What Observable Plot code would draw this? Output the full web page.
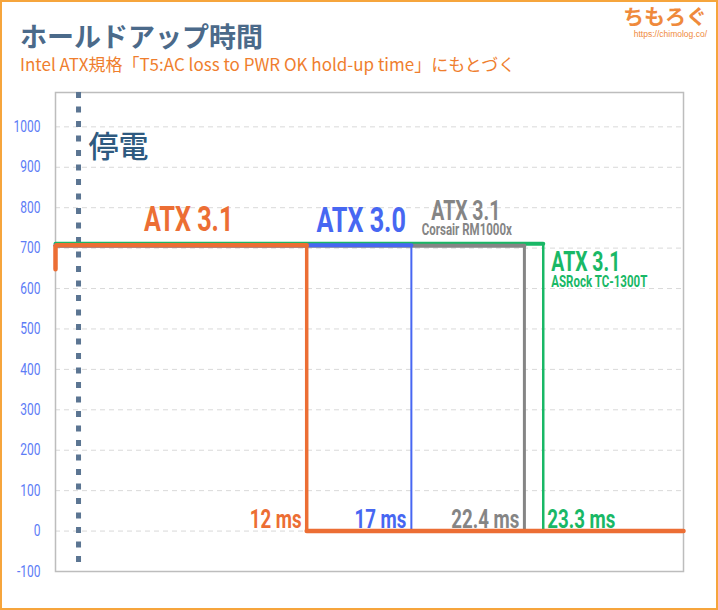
<!DOCTYPE html>
<html><head><meta charset="utf-8">
<script src="https://cdn.jsdelivr.net/npm/d3@7"></script>
<script src="https://cdn.jsdelivr.net/npm/@observablehq/plot@0.6"></script>
<style>
body{margin:0;background:#fff;}
#wrap{position:relative;width:718px;height:610px;overflow:hidden;background:#fff;font-family:"Noto Sans CJK JP","Noto Sans",sans-serif;}
#border{position:absolute;left:0;top:0;width:718px;height:610px;box-sizing:border-box;border:2px solid #F6A53C;pointer-events:none;z-index:5;}
#title{position:absolute;left:20px;top:22px;font-size:27px;font-weight:bold;color:#4B6A8A;line-height:1;white-space:nowrap;}
#subtitle{position:absolute;left:20px;top:55px;font-size:17px;color:#EF7E2E;line-height:1;white-space:nowrap;}
#logo{position:absolute;right:11px;top:5px;text-align:right;color:#EF8A3C;line-height:1;}
#logo .a{font-size:21px;font-weight:bold;}
#logo .b{font-size:8.5px;font-family:"Liberation Sans",sans-serif;margin-top:4px;}
#chart{position:absolute;left:0;top:75px;}
</style>
</head><body>
<div id="wrap">
  <div id="title">ホールドアップ時間</div>
  <div id="subtitle">Intel ATX規格「T5:AC loss to PWR OK hold-up time」にもとづく</div>
  <div id="logo"><div class="a">ちもろぐ</div><div class="b">https://chimolog.co/</div></div>
  <div id="chart"></div>
  <div id="border"></div>
</div>
<script>
// ---- data ----
const standards = ["ATX 3.1", "ATX 3.0", "ATX 3.1", "ATX 3.1"];
const models = ["", "", "Corsair RM1000x", "ASRock TC-1300T"];
const holdupMs = [12, 17, 22.4, 23.3];
const holdupLabels = ["12 ms", "17 ms", "22.4 ms", "23.3 ms"];
const plateau = [707, 707, 706, 711];
const startValue = [648, 707, 706, 711];
const endMs = 30;
const outageMs = 1.1;
const outageLabel = "停電";
const yTicks = [-100, 0, 100, 200, 300, 400, 500, 600, 700, 800, 900, 1000];

const colors = ["#EC6E34", "#4767F2", "#858585", "#19B866"];
const topWidth = [4.5, 4, 4, 4];
const dropWidth = [3.5, 2, 3, 2.5];
const cond = "Roboto, 'Liberation Sans', sans-serif";

const marks = [
  Plot.ruleY(yTicks, {stroke: "#d9d9d9", strokeWidth: 1, strokeDasharray: "5,4"}),
  Plot.frame({stroke: "#bdbdbd", strokeWidth: 1.5}),
  Plot.ruleX([outageMs], {y1: 1085, y2: -93, stroke: "#5B7592", strokeWidth: 5, strokeDasharray: "6,8.5"})
];

// draw green first, orange last
for (const i of [3, 2, 1, 0]) {
  const top = [{x: 0, y: startValue[i]}, {x: 0, y: plateau[i]}, {x: holdupMs[i], y: plateau[i]}];
  const drop = [{x: holdupMs[i], y: plateau[i]}, {x: holdupMs[i], y: 0}, {x: endMs, y: 0}];
  marks.push(Plot.line(top, {x: "x", y: "y", stroke: colors[i], strokeWidth: topWidth[i], strokeLinejoin: "miter"}));
  marks.push(Plot.line(drop, {x: "x", y: "y", stroke: colors[i], strokeWidth: dropWidth[i], strokeLinejoin: "miter"}));
}
marks.push(Plot.line([{x: holdupMs[0], y: 0}, {x: endMs, y: 0}], {x: "x", y: "y", stroke: colors[0], strokeWidth: 4.5}));

const C = {fontWeight: "bold", fontFamily: cond, lineAnchor: "bottom", className: "cond"};
// hold-up time labels
marks.push(Plot.text([0, 1, 2], {...C, x: i => holdupMs[i], y: 0, text: i => holdupLabels[i], fill: i => colors[i], textAnchor: "end", dx: -5, dy: -3, fontSize: 26}));
marks.push(Plot.text([3], {...C, x: i => holdupMs[i], y: 0, text: i => holdupLabels[i], fill: i => colors[i], textAnchor: "start", dx: 4, dy: -3, fontSize: 26}));
// standard labels
marks.push(Plot.text([0], {...C, x: i => holdupMs[i] * 0.53, y: i => plateau[i], text: i => standards[i], fill: colors[0], dy: -14, fontSize: 35}));
marks.push(Plot.text([1], {...C, x: i => (holdupMs[0] + holdupMs[1]) / 2 + 0.1, y: i => plateau[i], text: i => standards[i], fill: colors[1], dy: -13, fontSize: 35}));
marks.push(Plot.text([2], {...C, x: i => (holdupMs[1] + holdupMs[2]) / 2 - 0.1, y: i => plateau[i], text: i => standards[i], fill: colors[2], dy: -26, fontSize: 27}));
marks.push(Plot.text([2], {...C, x: i => (holdupMs[1] + holdupMs[2]) / 2 - 0.05, y: i => plateau[i], text: i => models[i], fill: colors[2], dy: -11, fontSize: 16}));
marks.push(Plot.text([3], {...C, x: i => holdupMs[i], y: i => plateau[i], text: i => standards[i], fill: colors[3], textAnchor: "start", dx: 8, dy: 27, fontSize: 27}));
marks.push(Plot.text([3], {...C, x: i => holdupMs[i], y: i => plateau[i], text: i => models[i], fill: colors[3], textAnchor: "start", dx: 8, dy: 43, fontSize: 16}));
// outage label
marks.push(Plot.text([outageLabel], {x: outageMs, y: 1000, text: d => d, fill: "#2E5A80", textAnchor: "start", dx: 10, lineAnchor: "bottom", dy: 30, fontSize: 30, fontWeight: "500", fontFamily: "'Noto Sans CJK JP',sans-serif"}));

const chart = Plot.plot({
  width: 718,
  height: 531,
  marginLeft: 55,
  marginRight: 35,
  marginTop: 17,
  marginBottom: 35,
  style: {background: "transparent", overflow: "visible"},
  x: {domain: [0, endMs], axis: null},
  y: {domain: [-100, 1085], ticks: yTicks, tickSize: 0, tickPadding: 15, label: null, tickFormat: d => String(d)},
  marks
});
document.getElementById("chart").appendChild(chart);

// horizontal condensing (keeps anchor point fixed)
function squeeze(el, s) {
  const t = el.getAttribute("transform") || "";
  el.setAttribute("transform", `${t} scale(${s},1)`);
}
d3.select(chart).selectAll(".cond text").each(function(){ squeeze(this, 0.72); });
d3.select(chart).selectAll("[aria-label='y-axis tick label'] text")
  .attr("fill", "#5C7CF6").style("font-family", "Roboto, sans-serif").style("font-size", "16px")
  .each(function(){ squeeze(this, 0.75); });
</script>
</body></html>
